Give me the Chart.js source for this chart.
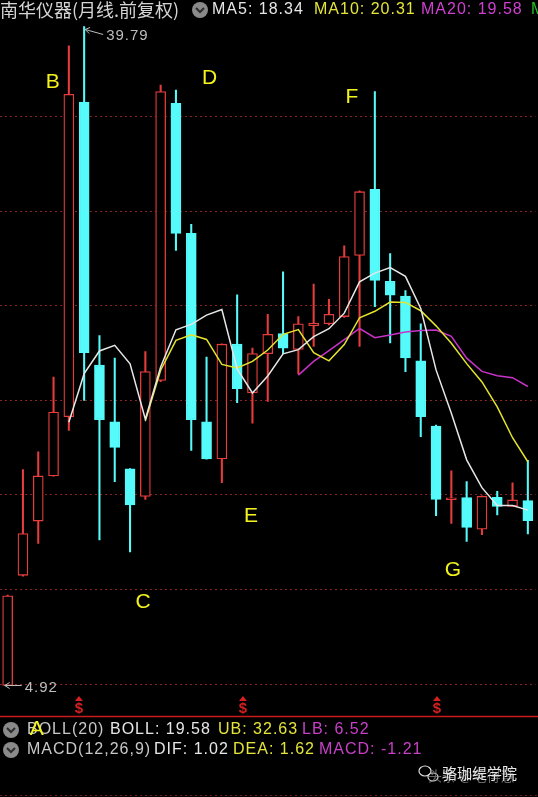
<!DOCTYPE html>
<html>
<head>
<meta charset="utf-8">
<script src="https://cdn.jsdelivr.net/npm/chart.js@4.4.1/dist/chart.umd.min.js"></script>
<style>
  html, body { margin: 0; padding: 0; background: #000; overflow: hidden; }
  #wrap { position: relative; width: 538px; height: 797px; background: #000; }
</style>
</head>
<body>
<div id="wrap"><canvas id="kChart" width="538" height="797"></canvas></div>
<script>
// 月线 K 线数据
const months = ['1','2','3','4','5','6','7','8','9','10','11','12','13','14','15','16','17','18',
                '19','20','21','22','23','24','25','26','27','28','29','30','31','32','33','34','35'];
const openPx  = [4.92, 10.75, 13.62, 16.01, 19.14, 35.79, 21.87, 18.87, 16.39, 14.92, 21.06, 35.72,
                 28.84, 18.87, 16.91, 22.98, 20.40, 22.48, 23.54, 22.70, 23.96, 24.06, 24.44, 27.67,
                 31.17, 26.31, 25.53, 22.10, 18.65, 14.75, 14.86, 13.19, 14.88, 14.40, 14.70];
const highPx  = [9.70, 16.34, 17.29, 21.24, 38.77, 39.79, 23.43, 22.25, 16.40, 22.59, 36.69, 36.42,
                 29.32, 22.30, 23.00, 25.59, 22.77, 24.56, 26.81, 24.44, 26.16, 25.35, 28.19, 31.10,
                 36.35, 27.78, 25.82, 24.06, 18.70, 16.28, 15.71, 14.95, 15.20, 15.65, 16.84];
const lowPx   = [4.92, 10.70, 12.44, 16.00, 18.42, 20.00, 12.62, 15.71, 11.99, 14.77, 21.00, 27.94,
                 17.36, 16.90, 15.65, 19.89, 18.80, 19.95, 22.48, 21.40, 22.86, 24.00, 24.40, 22.86,
                 24.96, 23.04, 21.53, 18.08, 13.91, 13.50, 12.55, 12.90, 13.95, 14.40, 12.94];
const closePx = [9.67, 12.96, 16.01, 19.39, 36.20, 22.53, 18.98, 17.52, 14.47, 21.53, 36.35, 28.84,
                 18.98, 16.91, 22.98, 20.63, 22.48, 23.50, 22.77, 24.06, 24.10, 24.56, 27.62, 31.05,
                 26.36, 25.57, 22.25, 19.14, 14.77, 14.85, 13.28, 14.93, 14.40, 14.74, 13.64];

// 均线 (白 MA5, 黄 MA10, 紫 MA20)
const ma5  = [null, null, null, null, 18.85, 21.42, 22.62, 22.92, 21.94, 19.01, 21.77, 23.74,
              24.03, 24.52, 24.81, 21.67, 20.40, 21.30, 22.47, 22.69, 23.38, 23.80, 24.62, 26.28,
              26.74, 27.03, 26.57, 24.87, 21.62, 19.32, 16.86, 15.39, 14.45, 14.44, 14.20];
const ma10 = [null, null, null, null, null, null, null, null, null, 18.93, 21.60, 23.18,
              23.48, 23.23, 21.91, 21.72, 22.07, 22.67, 23.50, 23.75, 22.53, 22.10, 22.96, 24.38,
              24.72, 25.21, 25.19, 24.75, 23.95, 23.03, 21.95, 20.98, 19.66, 18.03, 16.76];
const ma20 = [null, null, null, null, null, null, null, null, null, null, null, null,
              null, null, null, null, null, null, null, 21.34, 22.07, 22.64, 23.22, 23.81,
              23.32, 23.47, 23.63, 23.71, 23.73, 23.39, 22.24, 21.54, 21.31, 21.21, 20.74];

const yTicks = [5, 10, 15, 20, 25, 30, 35];

// 标注字母 (位置: K线序号, 价格)
const letterTags  = ['A', 'B', 'C', 'D', 'E', 'F', 'G'];
const letterIndex = [1.9, 2.95, 8.85, 13.2, 15.9, 22.5, 29.1];
const letterPrice = [2.6, 36.85, 9.35, 37.05, 13.9, 36.05, 11.0];

// 除权标记 $
const dividendIndex = [4.66, 15.38, 28.06];

const RED = '#e63c3c';
const CYAN = '#55fafa';
const up = closePx.map((c, i) => c >= openPx[i]);

function drawText(ctx, s, x, y, color, font, spacing) {
    ctx.font = font;
    ctx.fillStyle = color;
    ctx.letterSpacing = spacing || '0px';
    ctx.textAlign = 'left';
    ctx.textBaseline = 'middle';
    ctx.fillText(s, x, y);
    ctx.letterSpacing = '0px';
}

function drawIcon(ctx, cx, cy) {
    ctx.fillStyle = '#8a8a8a';
    ctx.beginPath();
    ctx.arc(cx, cy, 8, 0, Math.PI * 2);
    ctx.fill();
    ctx.strokeStyle = '#2c2c2c';
    ctx.lineWidth = 2;
    ctx.beginPath();
    ctx.moveTo(cx - 4, cy - 2);
    ctx.lineTo(cx, cy + 2);
    ctx.lineTo(cx + 4, cy - 2);
    ctx.stroke();
}

const overlay = {
    id: 'overlay',
    afterDraw(chart) {
        const { ctx, scales: { x, y } } = chart;
        const row = '16px "Liberation Sans", Arial, sans-serif';
        ctx.save();

        // 分隔线
        ctx.strokeStyle = '#c81c1c';
        ctx.lineWidth = 1.5;
        ctx.beginPath(); ctx.moveTo(0, 716.5); ctx.lineTo(538, 716.5); ctx.stroke();
        ctx.setLineDash([2, 3]);
        ctx.strokeStyle = '#6a1a1a';
        ctx.lineWidth = 1;
        ctx.beginPath(); ctx.moveTo(0, 795.5); ctx.lineTo(538, 795.5); ctx.stroke();
        ctx.setLineDash([]);

        // 标题行
        drawText(ctx, '南华仪器(月线.前复权)', 0, 10, '#d4d4d4', '18px "Noto Sans CJK SC"');
        drawIcon(ctx, 200, 10);
        drawText(ctx, 'MA5: 18.34', 212, 10, '#e6e6e6', row, '1px');
        drawText(ctx, 'MA10: 20.31', 314, 10, '#e4e43a', row, '1px');
        drawText(ctx, 'MA20: 19.58', 421, 10, '#d040d0', row, '1px');
        drawText(ctx, 'M', 531, 10, '#22c022', row, '1px');

        // 指标行
        drawIcon(ctx, 11, 730);
        drawIcon(ctx, 11, 750);
        drawText(ctx, 'BOLL(20)', 27, 730, '#c8c8c8', row, '1px');
        drawText(ctx, 'BOLL: 19.58', 110, 730, '#e6e6e6', row, '1px');
        drawText(ctx, 'UB: 32.63', 218, 730, '#e4e43a', row, '1px');
        drawText(ctx, 'LB: 6.52', 302, 730, '#c840c8', row, '1px');
        drawText(ctx, 'MACD(12,26,9)', 27, 750, '#c8c8c8', row, '1px');
        drawText(ctx, 'DIF: 1.02', 154, 750, '#e6e6e6', row, '1px');
        drawText(ctx, 'DEA: 1.62', 233, 750, '#e4e43a', row, '1px');
        drawText(ctx, 'MACD: -1.21', 319, 750, '#c840c8', row, '1px');

        // 最高价 / 最低价
        const iHigh = highPx.indexOf(Math.max(...highPx));
        let px = x.getPixelForValue(iHigh);
        let py = y.getPixelForValue(highPx[iHigh]);
        ctx.strokeStyle = '#bdbdbd';
        ctx.lineWidth = 1;
        ctx.beginPath();
        ctx.moveTo(px + 1, py + 3); ctx.lineTo(px + 19, py + 8);
        ctx.moveTo(px + 1, py + 3); ctx.lineTo(px + 6, py + 1);
        ctx.moveTo(px + 1, py + 3); ctx.lineTo(px + 5, py + 7);
        ctx.stroke();
        drawText(ctx, highPx[iHigh].toFixed(2), px + 22, py + 9, '#bdbdbd', '15px "Liberation Sans", Arial', '1px');

        const iLow = lowPx.indexOf(Math.min(...lowPx));
        px = x.getPixelForValue(iLow);
        py = y.getPixelForValue(lowPx[iLow]);
        ctx.beginPath();
        ctx.moveTo(px - 3, py); ctx.lineTo(px + 14, py);
        ctx.moveTo(px - 3, py); ctx.lineTo(px + 2, py - 3);
        ctx.moveTo(px - 3, py); ctx.lineTo(px + 2, py + 3);
        ctx.stroke();
        drawText(ctx, lowPx[iLow].toFixed(2), px + 17, py + 2, '#bdbdbd', '15px "Liberation Sans", Arial', '1px');

        // 除权 $ 标记
        dividendIndex.forEach(d => {
            const dx = x.getPixelForValue(d);
            ctx.fillStyle = '#d42020';
            ctx.beginPath();
            ctx.moveTo(dx, 696); ctx.lineTo(dx + 4, 701); ctx.lineTo(dx - 4, 701);
            ctx.closePath(); ctx.fill();
            ctx.font = 'bold 15px "Liberation Sans", Arial';
            ctx.textAlign = 'center';
            ctx.textBaseline = 'middle';
            ctx.fillText('$', dx, 709);
        });

        // 字母标注
        ctx.font = '21px "Liberation Sans", Arial';
        ctx.fillStyle = '#f2f21e';
        ctx.textAlign = 'center';
        ctx.textBaseline = 'middle';
        letterTags.forEach((t, i) => {
            ctx.fillText(t, x.getPixelForValue(letterIndex[i]), y.getPixelForValue(letterPrice[i]));
        });

        // 水印
        ctx.strokeStyle = '#dcdcdc';
        ctx.lineWidth = 1.2;
        ctx.beginPath(); ctx.ellipse(425, 771, 6, 5, 0, 0, Math.PI * 2); ctx.stroke();
        ctx.beginPath(); ctx.ellipse(433, 777, 5, 4, 0, 0, Math.PI * 2); ctx.stroke();
        drawText(ctx, '头条 @毛得慧', 428, 776, 'rgba(150,150,150,0.7)', '14px "Noto Sans CJK SC"');
        drawText(ctx, '骆珈缇学院', 442, 773, '#e8e8e8', '15px "Noto Sans CJK SC"');

        ctx.restore();
    }
};

const ctx = document.getElementById('kChart').getContext('2d');
new Chart(ctx, {
    type: 'bar',
    data: {
        labels: months,
        datasets: [
            { type: 'line', label: 'MA5', data: ma5, borderColor: '#e6e6e6', borderWidth: 1.5,
              pointRadius: 0, fill: false, order: 0 },
            { type: 'line', label: 'MA10', data: ma10, borderColor: '#e4e42c', borderWidth: 1.5,
              pointRadius: 0, fill: false, order: 0 },
            { type: 'line', label: 'MA20', data: ma20, borderColor: '#c832c8', borderWidth: 1.5,
              pointRadius: 0, fill: false, order: 0 },
            { type: 'bar', label: 'body', data: openPx.map((o, i) => [o, closePx[i]]),
              backgroundColor: up.map(u => u ? '#000' : CYAN),
              borderColor: up.map(u => u ? RED : CYAN),
              borderWidth: 1.3, borderSkipped: false, barThickness: 10, grouped: false, order: 1 },
            { type: 'bar', label: 'wick', data: lowPx.map((l, i) => [l, highPx[i]]),
              backgroundColor: up.map(u => u ? RED : CYAN),
              borderWidth: 0, barThickness: 1.4, grouped: false, order: 2 }
        ]
    },
    options: {
        responsive: false,
        animation: false,
        events: [],
        layout: { padding: { top: 22.5, bottom: 94.1, left: 0, right: 2.5 } },
        plugins: { legend: { display: false }, tooltip: { enabled: false } },
        scales: {
            x: { display: false },
            y: {
                min: 4,
                max: 40,
                ticks: { display: false, stepSize: 5 },
                grid: {
                    drawTicks: false,
                    lineWidth: 1,
                    color: c => (c.tick && yTicks.includes(c.tick.value)) ? '#8a2424' : 'rgba(0,0,0,0)'
                },
                border: { display: false, dash: [2, 3] },
                afterFit: s => { s.width = 0; }
            }
        }
    },
    plugins: [overlay]
});
</script>
</body>
</html>
